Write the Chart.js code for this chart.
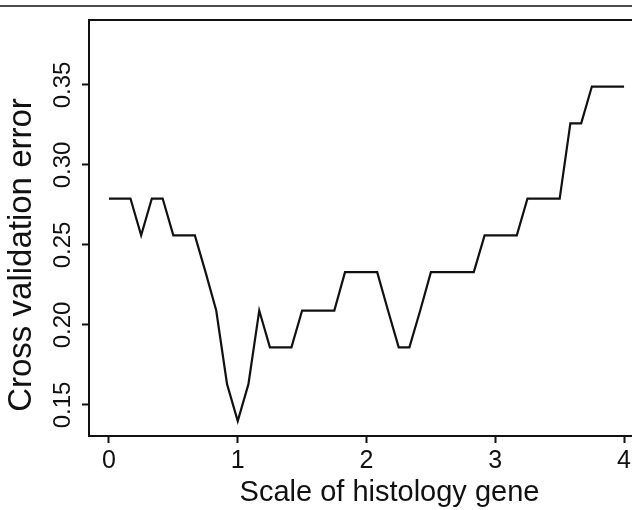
<!DOCTYPE html>
<html>
<head>
<meta charset="utf-8">
<script src="https://cdn.jsdelivr.net/npm/chart.js@4.4.0/dist/chart.umd.min.js"></script>
<style>
  html, body { margin: 0; padding: 0; background: #fff; width: 632px; height: 510px; overflow: hidden; }
</style>
</head>
<body>
<canvas id="cvChart" width="700" height="510"></canvas>
<script>
// scale of histology gene (x) and the cross validation error
const geneScale = [0, 0.083, 0.167, 0.25, 0.333, 0.417, 0.5, 0.583, 0.667, 0.75, 0.833, 0.917,
  1, 1.083, 1.167, 1.25, 1.333, 1.417, 1.5, 1.583, 1.667, 1.75, 1.833, 1.917,
  2, 2.083, 2.167, 2.25, 2.333, 2.417, 2.5, 2.583, 2.667, 2.75, 2.833, 2.917,
  3, 3.083, 3.167, 3.25, 3.333, 3.417, 3.5, 3.583, 3.667, 3.75, 3.833, 3.917, 4];
const cvError = [0.279, 0.279, 0.279, 0.256, 0.279, 0.279, 0.256, 0.256, 0.256, 0.233, 0.209, 0.163,
  0.140, 0.163, 0.209, 0.186, 0.186, 0.186, 0.209, 0.209, 0.209, 0.209, 0.233, 0.233,
  0.233, 0.233, 0.209, 0.186, 0.186, 0.209, 0.233, 0.233, 0.233, 0.233, 0.233, 0.256,
  0.256, 0.256, 0.256, 0.279, 0.279, 0.279, 0.279, 0.326, 0.326, 0.349, 0.349, 0.349, 0.349];
const xTicks = [0, 1, 2, 3, 4];
const yTicks = [0.15, 0.20, 0.25, 0.30, 0.35];

const ink = '#111';
const fontFam = '"Liberation Sans", Arial, sans-serif';

// top rule, top of the box, and the R style turned y labels
const framePlugin = {
  id: 'frame',
  afterDraw(chart) {
    const ctx = chart.ctx;
    const a = chart.chartArea;
    const ys = chart.scales.y;
    ctx.save();
    ctx.strokeStyle = ink;
    ctx.lineWidth = 1.5;
    ctx.beginPath();
    ctx.moveTo(0, 6);
    ctx.lineTo(chart.width, 6);
    ctx.stroke();
    ctx.lineWidth = 2;
    ctx.beginPath();
    ctx.moveTo(a.left - 1, a.top);
    ctx.lineTo(a.right, a.top);
    ctx.stroke();

    ctx.fillStyle = ink;
    ctx.textAlign = 'center';
    ctx.textBaseline = 'middle';
    ctx.font = '24px ' + fontFam;
    yTicks.forEach(function(v) {
      ctx.save();
      ctx.translate(63, ys.getPixelForValue(v));
      ctx.rotate(-Math.PI / 2);
      ctx.fillText(v.toFixed(2), 0, 0);
      ctx.restore();
    });

    ctx.font = '33px ' + fontFam;
    ctx.translate(22, 255);
    ctx.rotate(-Math.PI / 2);
    ctx.fillText('Cross validation error', 0, 0);
    ctx.restore();
  }
};

new Chart(document.getElementById('cvChart'), {
  type: 'line',
  data: {
    datasets: [{
      data: geneScale.map(function(x, i) { return { x: x, y: cvError[i] }; }),
      borderColor: ink,
      borderWidth: 2.2,
      pointRadius: 0,
      tension: 0,
      fill: false
    }]
  },
  options: {
    responsive: false,
    animation: false,
    layout: { padding: { top: 20, right: 10, left: 0, bottom: 0 } },
    plugins: { legend: { display: false }, tooltip: { enabled: false } },
    scales: {
      x: {
        type: 'linear',
        min: -0.155,
        max: 4.512,
        afterBuildTicks: function(s) { s.ticks = xTicks.map(function(v) { return { value: v }; }); },
        afterFit: function(s) { s.height = 74; },
        grid: { drawOnChartArea: false, drawTicks: true, tickLength: 7, tickWidth: 2, tickColor: ink },
        border: { display: true, color: ink, width: 2 },
        ticks: { color: ink, font: { family: fontFam, size: 25 }, padding: 3, maxRotation: 0, autoSkip: false },
        title: { display: true, text: 'Scale of histology gene', color: ink,
                 font: { family: fontFam, size: 29 }, padding: { top: 0, bottom: 0 } }
      },
      y: {
        min: 0.1306,
        max: 0.3906,
        afterBuildTicks: function(s) { s.ticks = yTicks.map(function(v) { return { value: v }; }); },
        afterFit: function(s) { s.width = 89; },
        grid: { drawOnChartArea: false, drawTicks: true, tickLength: 7, tickWidth: 2, tickColor: ink },
        border: { display: true, color: ink, width: 2 },
        ticks: { display: false }
      }
    }
  },
  plugins: [framePlugin]
});
</script>
</body>
</html>
